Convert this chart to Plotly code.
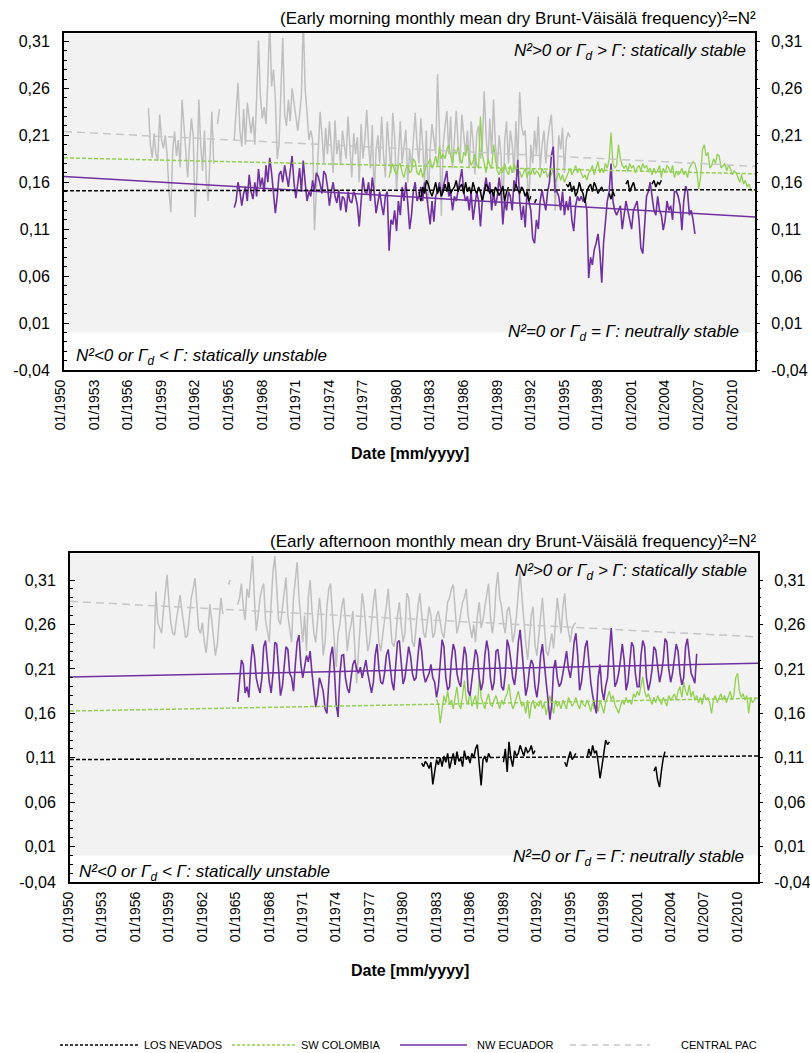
import pandas as pd
import plotly.graph_objects as go

N = None
# ---------------- DATA (N² values x1000, bimonthly: Jan, Mar, May, Jul, Sep, Nov) -------------
# Early morning panel
am_pac_start = 1957
am_pac = [
    N, N, N, 239, 200, 186,
    212, 190, 183, 232, 205, 196,
    210, 190, 150, 128, 195, 214,
    188, 205, 176, 248, 220, 190,
    165, 200, 228, 210, 123, 170,
    248, 200, 172, 215, 163, 140,
    190, 235, 180, N, 222, 238,
    N, N, N, N, N, N,
    N, 205, 240, 266, 215, 198,
    238, 200, 245, 225, 212, 230,
    200, 250, 311, 252, 228, 240,
    222, 270, 335, 262, 280, 250,
    185, 200, 250, 314, 232, 220,
    248, 225, 260, 245, 228, 215,
    232, 252, 335, 260, 235, 205,
    215, 205, 109, 150, 200, 235,
    210, 180, 218, 190, 225, 200,
    170, 226, 190, 205, 178, 215,
    200, 185, 230, 195, 165, 212,
    190, 208, 160, 222, 185, 205,
    237, 200, 175, 221, 145, 195,
    210, 180, 230, 190, 165, 225,
    200, 170, 234, 208, 150, 190,
    225, 180, 200, 216, 160, 195,
    175, 210, 234, 200, 180, 228,
    200, 160, 215, 138, 195, 222,
    205, 190, 275, 215, 124, 200,
    220, 236, 190, 230, 175, 210,
    236, 200, 180, 232, 210, 190,
    215, 175, 225, 205, 168, 212,
    220, 185, 200, 257, 210, 180,
    228, 190, 248, 200, 175, 210,
    190, 124, 205, 225, 180, 215,
    200, 170, 225, 180, 256, 220,
    210, 215, 170, 135, 200, 180,
    215, 190, 230, 175, 200, 215,
    180, 205, 220, 232, 195, 130,
    165, 210, 195, 218, 170, 205,
    213, 208, N, N, N, N,
]
am_ecu_start = 1965
am_ecu = [
    N, 133, 140, 160, 150, 135,
    148, 155, 140, 168, 150, 142,
    160, 145, 174, 155, 165, 150,
    178, 160, 186, 170, 150, 127,
    145, 168, 172, 160, 178, 165,
    155, 172, 188, 160, 143, 158,
    175, 150, 183, 160, 140, 150,
    145, 162, 150, 170, 166, 158,
    148, 172, 168, 155, 135, 150,
    160, 145, 138, 152, 130, 145,
    142, 128, 150, 140, 138, 150,
    145, 135, 113, 140, 165, 150,
    148, 160, 140, 165, 150, 127,
    140, 150, 135, 125, 145, 150,
    87, 120, 115, 130, 108, 140,
    125, 155, 140, 160, 138, 110,
    125, 150, 160, 140, 145, 155,
    140, 160, 148, 130, 115, 140,
    118, 145, 150, 160, 145, 155,
    165, 172, 145, 150, 130, 145,
    140, 152, 165, 174, 150, 140,
    145, 130, 150, 120, 135, 150,
    140, 113, 140, 155, 165, 150,
    160, 130, 150, 135, 145, 165,
    150, 115, 140, 130, 150, 145,
    130, 162, 155, 184, 140, 120,
    135, 112, 150, 140, 130, 100,
    95, 120, 110, 140, 152, 140,
    130, 150, 160, 188, 198, 150,
    150, 145, 130, 150, 125, 140,
    130, 145, 120, 108, 135, 145,
    140, 145, 140, 142, 130, 58,
    80, 72, 88, 95, 105, 85,
    53, 95, 115, 140, 150, 180,
    140, 130, 125, 130, 135, 110,
    125, 140, 130, 118, 110, 130,
    135, 140, 120, 90, 84, 120,
    145, 150, 160, 145, 130, 125,
    145, 130, 125, 109, 120, 140,
    130, 135, 120, 150, 150, 145,
    135, 109, 140, 156, 150, 125,
    130, 120, 105, N, N, N,
]
am_col_start = 1979
am_col = [
    165, 175, 180, 172, 168, 178,
    180, 170, 165, 175, 178, 170,
    172, 185, 182, 170, 168, 175,
    165, 172, 178, 180, 185, 175,
    180, 188, 178, 198, 185, 190,
    185, 195, 200, 188, 180, 195,
    190, 198, 185, 180, 192, 188,
    200, 185, 178, 182, 190, 178,
    175, 230, 190, 180, 170, 185,
    178, 175, 200, 185, 172, 168,
    175, 170, 180, 172, 168, 178,
    170, 180, 175, 168, 172, 165,
    170, 175, 165, 172, 168, 175,
    168, 172, 170, 165, 175, 170,
    172, 165, 170, 168, 175, 160,
    165, 170, 162, 168, 160, 165,
    170, 175, 168, 172, 178, 170,
    175, 170, 165, 168, 162, 170,
    172, 178, 168, 175, 182, 170,
    175, 170, 180, 175, 185, 213,
    180, 175, 178, 200, 185, 178,
    175, 178, 172, 180, 175, 178,
    170, 175, 178, 172, 180, 175,
    178, 172, 175, 168, 175, 170,
    172, 178, 165, 175, 170, 178,
    175, 170, 178, 165, 172, 168,
    170, 175, 168, 172, 165, 175,
    178, 182, 180, 172, 153, 165,
    195, 200, 188, 192, 175, 178,
    185, 180, 190, 188, 175, 178,
    180, 172, 178, 175, 168, 172,
    170, 165, 160, 168, 158, 162,
    155, 158, 152, 150, N, N,
]
am_nev_start = 1981
am_nev = [
    N, N, N, N, 150, 140,
    155, 148, 162, 158, 150, 145,
    152, 160, 148, 155, 145, 150,
    158, 150, 160, 148, 152, 155,
    162, 150, 155, 158, 148, 160,
    150, 155, 148, 160, 152, 148,
    155, 150, 140, 150, 158, 155,
    148, 152, 145, 155, 150, 146,
    150, 156, 140, 150, 155, N,
    N, 150, 158, 152, 148, 155,
    152, 145, 150, 140, 145, N,
    138, 142, N, N, N, N,
    N, N, N, N, N, N,
    N, N, N, N, N, 158,
    155, 160, 150, 156, 145, 150,
    160, 152, 148, 138, 150, 155,
    158, 150, 160, 155, 148, 152,
    155, 150, N, N, 148, 142,
    150, 145, N, N, N, N,
    N, 158, 162, 150, 155, 160,
    152, N, N, N, N, N,
    N, N, N, 158, 162, 155,
    160, 158, 162, N, N, N,
]

# Early afternoon panel
pm_pac_start = 1957
pm_pac = [
    N, N, 233, 297, 262, 256,
    250, 275, 300, 316, 285, 262,
    250, 248, 265, 280, 293, 275,
    260, 245, 248, 270, 290, 300,
    312, 285, 255, 250, 262, 240,
    228, 250, 283, 265, 240, 225,
    238, 265, 290, 272, N, N,
    305, 310, N, N, N, 282,
    290, 306, 280, 265, 300, 290,
    315, 337, 290, 253, 270, 290,
    300, 306, 265, 250, 240, 285,
    320, 337, 300, 265, 260, 280,
    300, 313, 270, 255, 240, 290,
    310, 330, 290, 260, 240, 270,
    230, 290, 310, 275, 250, 240,
    265, 290, 270, 225, 240, 280,
    300, 306, 270, 240, 212, 250,
    260, 280, 290, 265, 230, 250,
    260, 275, 240, 194, 230, 265,
    295, 280, 250, 230, 240, 265,
    285, 300, 275, 240, 230, 250,
    265, 280, 300, 270, 240, 235,
    245, 270, 285, 260, 240, 250,
    295, 290, 265, 240, 235, 260,
    280, 295, 270, 250, 245, 265,
    280, 270, 245, 250, 270, 275,
    260, 250, 245, 265, 285, 290,
    300, 305, 275, 250, 260, 275,
    285, 290, 300, 270, 256, 245,
    260, 240, 270, 285, 256, 265,
    280, 295, 306, 270, 250, 265,
    300, 319, 290, 280, 260, 250,
    275, 280, 265, 240, 250, 270,
    300, 320, 290, 260, 240, 220,
    250, 270, 280, 237, 225, 245,
    270, 290, 260, 230, 225, 240,
    250, 233, 260, 290, 270, 250,
    280, 295, 265, 250, 240, 255,
    260, 262, N, N, N, N,
]
pm_ecu_start = 1964
pm_ecu = [
    N, N, N, N, N, 173,
    195, 220, 215, 183, 190, 178,
    215, 238, 225, 200, 190, 183,
    200, 235, 242, 215, 195, 183,
    205, 240, 238, 210, 180, 190,
    210, 235, 232, 205, 200, 185,
    215, 240, 248, 215, 200, 212,
    225, 218, 230, 205, 185, 167,
    180, 200, 193, 185, 165, 160,
    195, 225, 235, 210, 170, 156,
    205, 225, 226, 200, 188, 183,
    200, 215, 220, 210, 205, 212,
    200, 210, 220, 205, 195, 183,
    195, 225, 238, 210, 195, 193,
    205, 225, 232, 210, 195, 186,
    215, 240, 242, 215, 193, 200,
    215, 235, 225, 205, 197, 200,
    225, 245, 230, 205, 195, 200,
    205, 215, 200, 195, 178, 190,
    215, 243, 235, 200, 186, 190,
    220, 238, 230, 205, 195, 190,
    215, 235, 225, 185, 180, 200,
    220, 232, 225, 200, 186, 195,
    225, 242, 230, 200, 186, 195,
    230, 232, 215, 190, 186, 205,
    243, 235, 220, 200, 192, 210,
    240, 254, 230, 200, 180, 190,
    210, 220, 215, 190, 178, 195,
    225, 238, 220, 195, 175, 153,
    170, 210, 220, 200, 190, 194,
    205, 220, 230, 210, 200, 215,
    240, 250, 225, 186, 195, 215,
    235, 242, 215, 195, 180, 168,
    160, 200, 215, 186, 175, 190,
    200, 230, 256, 225, 190, 195,
    205, 220, 238, 220, 186, 195,
    215, 240, 235, 205, 190, 190,
    225, 242, 235, 200, 186, 195,
    210, 235, 231, 210, 195, 205,
    220, 244, 240, 210, 195, 205,
    225, 238, 230, 205, 192, 200,
    235, 244, 225, 205, 200, 194,
    227, N, N, N, N, N,
]
pm_col_start = 1982
pm_col = [
    N, N, N, N, 176, 170,
    149, 165, 180, 172, 185, 170,
    175, 165, 180, 190, 170, 165,
    180, 197, 175, 170, 185, 168,
    175, 180, 165, 200, 178, 170,
    165, 175, 182, 170, 168, 175,
    180, 172, 165, 175, 170, 178,
    182, 193, 175, 165, 170, 178,
    185, 175, 168, 172, 160, 175,
    154, 170, 175, 165, 172, 168,
    175, 165, 172, 158, 170, 180,
    170, 160, 175, 168, 172, 165,
    175, 170, 165, 178, 172, 168,
    172, 178, 170, 165, 175, 170,
    168, 175, 170, 162, 172, 165,
    170, 162, 175, 168, 160, 172,
    178, 185, 175, 180, 170, 165,
    160, 168, 175, 170, 178, 172,
    175, 170, 182, 178, 185, 180,
    190, 201, 185, 178, 182, 175,
    170, 178, 172, 180, 175, 170,
    178, 172, 168, 180, 175, 178,
    182, 175, 185, 190, 178, 195,
    185, 180, 192, 178, 185, 175,
    180, 172, 178, 170, 182, 175,
    178, 172, 160, 175, 180, 172,
    178, 182, 175, 180, 172, 178,
    185, 175, 180, 200, 205, 185,
    178, 182, 175, 180, 160, 178,
    172, 175, 178, N, N, N,
]
pm_nev_start = 1981
pm_nev = [
    N, N, 104, 100, 106, 103,
    98, 105, 80, 95, 108, 102,
    110, 100, 112, 105, 115, 98,
    108, 115, 102, 117, 106, 110,
    100, 118, 108, 112, 104, 115,
    110, 120, 125, 100, 79, 108,
    112, 105, 115, 110, N, N,
    N, N, N, N, 105, 120,
    94, 128, 110, 100, 118, 112,
    115, 124, 118, 112, 122, 116,
    118, 124, 114, 118, N, N,
    N, N, N, N, N, N,
    N, N, N, N, N, N,
    N, 105, 100, 110, 117, 108,
    112, 115, N, N, N, N,
    N, 110, 120, 112, 124, 115,
    118, 105, 87, 100, 118, 130,
    125, 128, N, N, N, N,
    N, N, N, N, N, N,
    N, N, N, N, N, N,
    N, N, N, N, N, N,
    N, 95, 100, 85, 77, 95,
    110, 117, N, N, N, N,
]

# linear trend lines (value at left edge, value at right edge)
am_trend_nev = [0.151, 0.152]
am_trend_col = [0.186, 0.169]
am_trend_ecu = [0.166, 0.123]
am_trend_pac = [0.214, 0.177]
pm_trend_nev = [0.108, 0.112]
pm_trend_col = [0.1626, 0.177]
pm_trend_ecu = [0.201, 0.2165]
pm_trend_pac = [0.286, 0.246]

x_range_top = ["1949-12-13", "2011-09-12"]
x_range_bot = ["1949-10-16", "2011-07-02"]
y_range_top = [-0.04, 0.319]
y_range_bot = [-0.0297, 0.3404]

series_names = ["LOS NEVADOS", "SW COLOMBIA", "NW ECUADOR", "CENTRAL PAC"]
# --------------------------------------------------------------------------------------------

C_NEV = "#000000"
C_COL = "#92D050"
C_ECU = "#7030A0"
C_PAC = "#BFBFBF"
C_PAC_T = "#C6C6C6"

REG = "Liberation Sans, Arial, sans-serif"


def series_xy(start, vals):
    x = pd.date_range(start=f"{start}-01-01", periods=len(vals), freq="2MS")
    y = [None if v is None else v / 1000.0 for v in vals]
    return x, y


fig = go.Figure()


def add_panel(xa, ya, data, trends, xr):
    order = [(data[3], C_PAC, 1.5), (data[1], C_COL, 1.3), (data[2], C_ECU, 1.6), (data[0], C_NEV, 1.5)]
    for (start, vals), col, w in order:
        x, y = series_xy(start, vals)
        fig.add_trace(go.Scatter(x=x, y=y, mode="lines", line=dict(color=col, width=w),
                                 xaxis=xa, yaxis=ya, showlegend=False, connectgaps=False,
                                 hoverinfo="skip"))
    styles = [(trends[3], C_PAC_T, "8px,5px", 1.5), (trends[1], C_COL, "4px,2px", 1.5),
              (trends[2], C_ECU, "solid", 1.5), (trends[0], C_NEV, "4px,2px", 1.5)]
    for tr, col, dash, w in styles:
        fig.add_trace(go.Scatter(x=xr, y=tr, mode="lines", line=dict(color=col, width=w, dash=dash),
                                 xaxis=xa, yaxis=ya, showlegend=False, hoverinfo="skip"))


add_panel("x", "y",
          [(am_nev_start, am_nev), (am_col_start, am_col), (am_ecu_start, am_ecu), (am_pac_start, am_pac)],
          [am_trend_nev, am_trend_col, am_trend_ecu, am_trend_pac], x_range_top)
add_panel("x2", "y2",
          [(pm_nev_start, pm_nev), (pm_col_start, pm_col), (pm_ecu_start, pm_ecu), (pm_pac_start, pm_pac)],
          [pm_trend_nev, pm_trend_col, pm_trend_ecu, pm_trend_pac], x_range_bot)

# dummy traces to activate right-hand axes
fig.add_trace(go.Scatter(x=[None], y=[None], xaxis="x", yaxis="y3", showlegend=False, hoverinfo="skip"))
fig.add_trace(go.Scatter(x=[None], y=[None], xaxis="x2", yaxis="y4", showlegend=False, hoverinfo="skip"))

W, H = 810, 1053


def px_x(p):
    return p / W


def px_y(p):
    return 1 - p / H


major = [0.01, 0.06, 0.11, 0.16, 0.21, 0.26, 0.31]
major_txt = ["0,01", "0,06", "0,11", "0,16", "0,21", "0,26", "0,31"]
minor_vals = [round(-0.04 + 0.01 * k, 2) for k in range(36)]


def xaxis_def(dom, rng, anchor):
    return dict(domain=dom, anchor=anchor, type="date", range=rng, tick0="1950-01-01", dtick="M36",
                tickformat="%m/%Y", tickangle=-90, ticks="", showgrid=False, zeroline=False,
                showline=True, mirror=True, linecolor="black", linewidth=2, automargin=False,
                ticklabelshift=-4, ticklabelstandoff=2,
                tickfont=dict(family=REG, size=14, color="black"))


def yaxis_def(dom, rng, anchor, bottom_val):
    return dict(domain=dom, anchor=anchor, range=rng, tickmode="array",
                tickvals=[bottom_val] + major, ticktext=["-0,04"] + major_txt,
                ticks="inside", ticklen=5, tickcolor="black", tickwidth=1,
                minor=dict(tickmode="array", tickvals=minor_vals, ticks="inside", ticklen=3,
                           tickcolor="black", tickwidth=1),
                showgrid=False, zeroline=False, showline=True, mirror=True, linecolor="black",
                linewidth=2, ticklabelstandoff=9, automargin=False,
                tickfont=dict(family=REG, size=16, color="black"))


def yaxis_right(over, anchor, rng, bottom_val):
    return dict(overlaying=over, anchor=anchor, side="right", range=rng, tickmode="array",
                tickvals=[bottom_val] + major, ticktext=["-0,04"] + major_txt,
                ticks="outside", ticklen=4, tickcolor="black", tickwidth=1,
                minor=dict(tickmode="array", tickvals=minor_vals, ticks="outside", ticklen=2,
                           tickcolor="black", tickwidth=1),
                showgrid=False, zeroline=False, showline=False, ticklabelstandoff=8,
                automargin=False, tickfont=dict(family=REG, size=16, color="black"))


top_xdom = [px_x(64), px_x(755)]
top_ydom = [px_y(370), px_y(33)]
bot_xdom = [px_x(70), px_x(758)]
bot_ydom = [px_y(882), px_y(553)]

shapes = [
    dict(type="rect", xref="x domain", yref="y", x0=0, x1=1, y0=0, y1=y_range_top[1],
         fillcolor="#F2F2F2", line=dict(width=0), layer="below"),
    dict(type="rect", xref="x2 domain", yref="y2", x0=0, x1=1, y0=0, y1=y_range_bot[1],
         fillcolor="#F2F2F2", line=dict(width=0), layer="below"),
]

# legend (drawn manually to reproduce the long line samples)
leg_y = px_y(1045)
leg_items = [(60, 140, 143, C_NEV, "3px,2px"), (232, 296, 300, C_COL, "3px,2px"),
             (400, 467, 476, C_ECU, "solid"), (570, 650, 680, C_PAC_T, "6px,5px")]
annotations = []
for (x0, x1, xt, col, dash), name in zip(leg_items, series_names):
    shapes.append(dict(type="line", xref="paper", yref="paper", x0=px_x(x0), x1=px_x(x1),
                       y0=leg_y, y1=leg_y, line=dict(color=col, width=1.5, dash=dash)))
    annotations.append(dict(xref="paper", yref="paper", x=px_x(xt), y=leg_y, text=name,
                            showarrow=False, xanchor="left", yanchor="middle", align="left",
                            borderpad=0, font=dict(family=REG, size=11, color="black")))

IT = dict(family=REG, size=17, color="black")


def ann(x, y, text, xanchor, font):
    annotations.append(dict(xref="paper", yref="paper", x=x, y=y, text=text, showarrow=False,
                            xanchor=xanchor, yanchor="middle", align=xanchor if xanchor != "center" else "center",
                            borderpad=0, font=font))


stable = "<i>N²&gt;0 or Γ<sub>d</sub> &gt; Γ: statically stable</i>"
neutral = "<i>N²=0 or Γ<sub>d</sub> = Γ: neutrally stable</i>"
unstable = "<i>N²&lt;0 or Γ<sub>d</sub> &lt; Γ: statically unstable</i>"
TITLE_F = dict(family=REG, size=17, color="black")
XT_F = dict(family=REG, size=16, color="black")

ann(px_x(757), px_y(18), "(Early morning monthly mean dry Brunt-Väisälä frequency)²=N²", "right", TITLE_F)
ann(px_x(747), px_y(52), stable, "right", IT)
ann(px_x(740), px_y(333), neutral, "right", IT)
ann(px_x(75), px_y(357), unstable, "left", IT)
ann(px_x(410), px_y(453), "<b>Date [mm/yyyy]</b>", "center", XT_F)

ann(px_x(757), px_y(541), "(Early afternoon monthly mean dry Brunt-Väisälä frequency)²=N²", "right", TITLE_F)
ann(px_x(748), px_y(572), stable, "right", IT)
ann(px_x(745), px_y(858), neutral, "right", IT)
ann(px_x(78), px_y(873), unstable, "left", IT)
ann(px_x(410), px_y(970), "<b>Date [mm/yyyy]</b>", "center", XT_F)

fig.update_layout(
    template="none",
    width=W, height=H, margin=dict(l=0, r=0, t=0, b=0, autoexpand=False),
    paper_bgcolor="white", plot_bgcolor="white", showlegend=False,
    font=dict(family=REG, size=14, color="black"),
    xaxis=xaxis_def(top_xdom, x_range_top, "y"),
    yaxis=yaxis_def(top_ydom, y_range_top, "x", -0.04),
    xaxis2=xaxis_def(bot_xdom, x_range_bot, "y2"),
    yaxis2=yaxis_def(bot_ydom, y_range_bot, "x2", y_range_bot[0]),
    yaxis3=yaxis_right("y", "x", y_range_top, -0.04),
    yaxis4=yaxis_right("y2", "x2", y_range_bot, y_range_bot[0]),
    shapes=shapes, annotations=annotations,
)

fig.write_html("out.html", config={"displayModeBar": False},
               post_script="document.body.style.margin='0px';document.body.style.overflow='hidden';")
